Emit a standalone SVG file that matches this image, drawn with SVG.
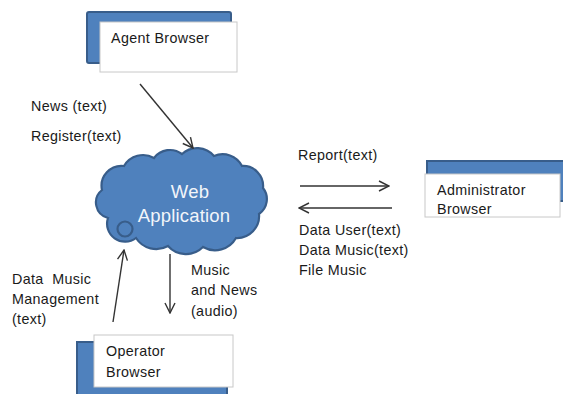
<svg xmlns="http://www.w3.org/2000/svg" width="563" height="394" viewBox="0 0 563 394">
  <defs>
    <marker id="arrow" viewBox="0 0 12 12" refX="11" refY="6" markerWidth="12" markerHeight="12" markerUnits="userSpaceOnUse" orient="auto">
      <path d="M1,1 L11,6 L1,11" fill="none" stroke="#333" stroke-width="1.4"/>
    </marker>
  </defs>
  <style>
    text { font-family: "Liberation Sans", Arial, sans-serif; font-size: 14.3px; letter-spacing: 0.35px; fill: #1a1a1a; }
    .pre { white-space: pre; }
    .back { fill: #4F81BD; stroke: #385D8A; stroke-width: 2; }
    .front { fill: #ffffff; stroke: #c8c8c8; stroke-width: 1; }
    .cloud { fill: #4F81BD; stroke: #385D8A; stroke-width: 2.2; }
    .cloudtext { fill: #f2f5fa; font-size: 18.5px; letter-spacing: 0.2px; text-anchor: middle; }
    .conn { stroke: #333; stroke-width: 1.4; fill: none; marker-end: url(#arrow); }
  </style>
  <rect width="563" height="394" fill="#ffffff"/>

  <g id="agent-browser">
    <rect class="back" x="87" y="12" width="144" height="51" rx="2"/>
    <rect class="front" x="100" y="22" width="137" height="50"/>
    <text x="111" y="43">Agent Browser</text>
  </g>

  <g id="administrator-browser">
    <rect class="back" x="427" y="161" width="140" height="40"/>
    <rect class="front" x="425" y="174" width="135" height="43"/>
    <text x="437" y="195">Administrator</text>
    <text x="437" y="214">Browser</text>
  </g>

  <g id="operator-browser">
    <rect class="back" x="77" y="342" width="150" height="60"/>
    <rect class="front" x="94" y="335" width="139" height="52"/>
    <text x="106" y="356">Operator</text>
    <text x="106" y="377">Browser</text>
  </g>

  <g id="web-application">
    <path class="cloud" d="M108,218
      A16,16 0 0 1 102,190
      A20,20 0 0 1 124,166
      A22,22 0 0 1 154,158
      A20,20 0 0 1 182,154
      A22,22 0 0 1 214,156
      A22,22 0 0 1 242,166
      A20,20 0 0 1 263,188
      A18,18 0 0 1 259,214
      A22,22 0 0 1 236,238
      A24,24 0 0 1 203,247
      A24,24 0 0 1 168,246
      A24,24 0 0 1 136,238
      A18,18 0 0 1 108,218 Z"/>
    <circle class="cloud" cx="125" cy="229" r="7.5"/>
    <text class="cloudtext" x="190" y="198">Web</text>
    <text class="cloudtext" x="184" y="222">Application</text>
  </g>

  <g id="connectors">
    <line class="conn" x1="140" y1="84" x2="193" y2="148"/>
    <line class="conn" x1="300" y1="186" x2="389" y2="186"/>
    <line class="conn" x1="392" y1="208" x2="299" y2="208"/>
    <line class="conn" x1="113" y1="322" x2="124" y2="250"/>
    <line class="conn" x1="170" y1="254" x2="170" y2="313"/>
  </g>

  <g id="labels">
    <text x="31" y="111">News (text)</text>
    <text x="31" y="141">Register(text)</text>
    <text x="298" y="160">Report(text)</text>
    <text x="299" y="235">Data User(text)</text>
    <text x="299" y="255">Data Music(text)</text>
    <text x="299" y="275">File Music</text>
    <text class="pre" x="12" y="284">Data  Music</text>
    <text x="12" y="304">Management</text>
    <text x="12" y="324">(text)</text>
    <text x="191" y="275">Music</text>
    <text x="191" y="295">and News</text>
    <text x="191" y="316">(audio)</text>
  </g>
</svg>
